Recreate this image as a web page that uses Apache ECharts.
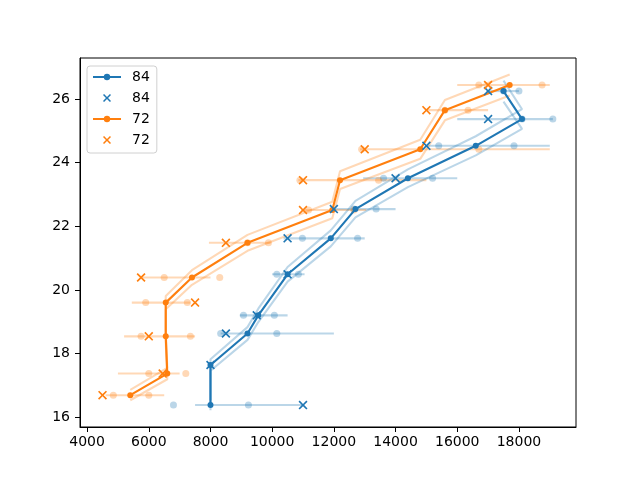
<!DOCTYPE html>
<html><head><meta charset="utf-8">
<script src="https://cdn.jsdelivr.net/npm/echarts@6/dist/echarts.min.js"></script>
<style>html,body{margin:0;padding:0;background:#fff}#c{width:640px;height:480px}</style>
</head><body><div id="c"></div>
<script>
// tick labels
const xTicks = [4000, 6000, 8000, 10000, 12000, 14000, 16000, 18000];
const yTicks = [16, 18, 20, 22, 24, 26];

// series "84" (blue)
const bY      = [16.38, 17.64, 18.63, 19.20, 20.49, 21.62, 22.54, 23.51, 24.53, 25.37, 26.25];
const bMainX  = [8000, 8000, 9200, 9550, 10500, 11900, 12700, 14400, 16600, 18100, 17500];
const bCrossX = [11000, 8000, 8500, 9500, 10500, 10500, 12000, 14000, 15000, 17000, 17000];
const bBarLo  = [7500, null, 8330, 8950, 10000, 10370, 11950, 12950, 15020, 16000, 17000];
const bBarHi  = [11000, null, 12000, 10500, 11050, 13000, 14000, 16000, 19000, 19100, 18000];
const bDotA   = [6800, null, 8330, 9070, 10150, 10980, 12650, 13610, 15400, 18100, 17500];
const bDotB   = [9230, null, 10150, 10070, 10850, 12770, 13370, 15200, 17840, 19100, 18000];
const bBandUp = [16.54, 17.82, 18.83, 19.41, 20.72, 21.87, 22.80, 23.79, 24.83, 25.68, 26.58];
const bBandDn = [16.22, 17.46, 18.43, 18.99, 20.26, 21.37, 22.28, 23.23, 24.23, 25.06, 25.92];

// series "72" (orange)
const oY      = [16.69, 17.37, 18.54, 19.60, 20.39, 21.48, 22.51, 23.45, 24.42, 25.65, 26.44];
const oMainX  = [5400, 6600, 6550, 6550, 7400, 9200, 11950, 12200, 14800, 15600, 17700];
const oCrossX = [4500, 6450, 6000, 7500, 5750, 8500, 11000, 11000, 13000, 15000, 17000];
const oBarLo  = [4600, 5000, 5200, 5450, 5750, 7950, 10950, 10850, 12850, 15000, 16000];
const oBarHi  = [6500, 7000, 7500, 7350, 8000, 9950, 13050, 15000, 19000, 17000, 19000];
const oDotA   = [4850, 6000, 5750, 5900, 6500, 9200, 11180, 10900, 12900, 15600, 16700];
const oDotB   = [6000, 7200, 7350, 7250, 8300, 9880, 12650, 13450, 16700, 16350, 18750];
const oBandUp = [16.86, 17.55, 18.74, 19.81, 20.62, 21.73, 22.77, 23.73, 24.72, 25.97, 26.77];
const oBandDn = [16.53, 17.19, 18.34, 19.39, 20.16, 21.23, 22.25, 23.17, 24.12, 25.33, 26.11];

const legendNames = {blue84: '84', blue84x: '84', orange72: '72', orange72x: '72'};

const C0 = '#1f77b4', C1 = '#ff7f0e';
const C0a = 'rgba(31,119,180,0.3)', C1a = 'rgba(255,127,14,0.3)';
const X_PATH = 'path://M0,1.3L1.3,0L5,3.7L8.7,0L10,1.3L6.3,5L10,8.7L8.7,10L5,6.3L1.3,10L0,8.7L3.7,5Z';
const FONT = 'DejaVu Sans';

function pts(xs, ys) {
  const out = [];
  xs.forEach((x, i) => { if (x != null) out.push([x, ys[i]]); });
  return out;
}
function bars(lo, hi, ys) {
  const out = [];
  lo.forEach((l, i) => { if (l != null) out.push([l, hi[i], ys[i]]); });
  return out;
}

function group(ys, mainX, crossX, lo, hi, dA, dB, up, dn, col, colA, nameLine, nameX) {
  return [
    {
      type: 'custom', silent: true, z: 2,
      data: bars(lo, hi, ys),
      encode: {x: [0, 1], y: 2},
      renderItem: function (params, api) {
        const p1 = api.coord([api.value(0), api.value(2)]);
        const p2 = api.coord([api.value(1), api.value(2)]);
        return {type: 'line', shape: {x1: p1[0], y1: p1[1], x2: p2[0], y2: p2[1]},
                style: {stroke: colA, lineWidth: 2.1}};
      }
    },
    {
      type: 'scatter', silent: true, z: 2, symbol: 'circle', symbolSize: 7,
      itemStyle: {color: colA, opacity: 1},
      data: pts(dA, ys).concat(pts(dB, ys))
    },
    {
      type: 'line', silent: true, z: 2, symbol: 'none',
      lineStyle: {color: colA, width: 2.1},
      data: pts(mainX, up)
    },
    {
      type: 'line', silent: true, z: 2, symbol: 'none',
      lineStyle: {color: colA, width: 2.1},
      data: pts(mainX, dn)
    },
    {
      name: nameLine, type: 'line', z: 3, symbol: 'circle', symbolSize: 6, showAllSymbol: true,
      lineStyle: {color: col, width: 2.1},
      itemStyle: {color: col, borderWidth: 0, opacity: 1},
      data: pts(mainX, ys)
    },
    {
      name: nameX, type: 'scatter', z: 4, symbol: X_PATH, symbolSize: 9,
      itemStyle: {color: col, opacity: 1},
      data: pts(crossX, ys)
    }
  ];
}

const chart = echarts.init(document.getElementById('c'), null, {renderer: 'canvas'});
chart.setOption({
  animation: false,
  backgroundColor: '#fff',
  grid: {left: 80, right: 64, top: 58, bottom: 53, show: true, borderColor: '#000', borderWidth: 1, backgroundColor: 'transparent'},
  legend: {
    orient: 'vertical', left: 87, top: 66,
    data: ['blue84', 'blue84x', 'orange72', 'orange72x'],
    formatter: n => legendNames[n],
    itemWidth: 28, itemHeight: 8, itemGap: 7,
    textStyle: {fontFamily: FONT, fontSize: 14, color: '#000', padding: [0, 0, 0, 6]},
    backgroundColor: 'rgba(255,255,255,0.8)', borderColor: '#d0d0d0', borderWidth: 1, borderRadius: 3,
    padding: [4, 7, 6, 5],
    selectedMode: false
  },
  xAxis: {
    type: 'value', min: 3770, max: 19850, splitNumber: 8,
    axisLine: {show: true, lineStyle: {color: '#000', width: 1}},
    axisTick: {show: true, inside: false, length: 5, lineStyle: {color: '#000', width: 1}, customValues: xTicks},
    axisLabel: {show: true, margin: 8, color: '#000', fontFamily: FONT, fontSize: 14, customValues: xTicks,
                formatter: v => String(v)},
    splitLine: {show: false}
  },
  yAxis: {
    type: 'value', min: 15.69, max: 27.29, splitNumber: 6,
    axisLine: {show: true, lineStyle: {color: '#000', width: 1}},
    axisTick: {show: true, inside: false, length: 5, lineStyle: {color: '#000', width: 1}, customValues: yTicks},
    axisLabel: {show: true, margin: 10, color: '#000', fontFamily: FONT, fontSize: 14, customValues: yTicks,
                formatter: v => String(v)},
    splitLine: {show: false}
  },
  series: [].concat(
    group(bY, bMainX, bCrossX, bBarLo, bBarHi, bDotA, bDotB, bBandUp, bBandDn, C0, C0a, 'blue84', 'blue84x'),
    group(oY, oMainX, oCrossX, oBarLo, oBarHi, oDotA, oDotB, oBandUp, oBandDn, C1, C1a, 'orange72', 'orange72x')
  )
});
</script>
</body></html>
